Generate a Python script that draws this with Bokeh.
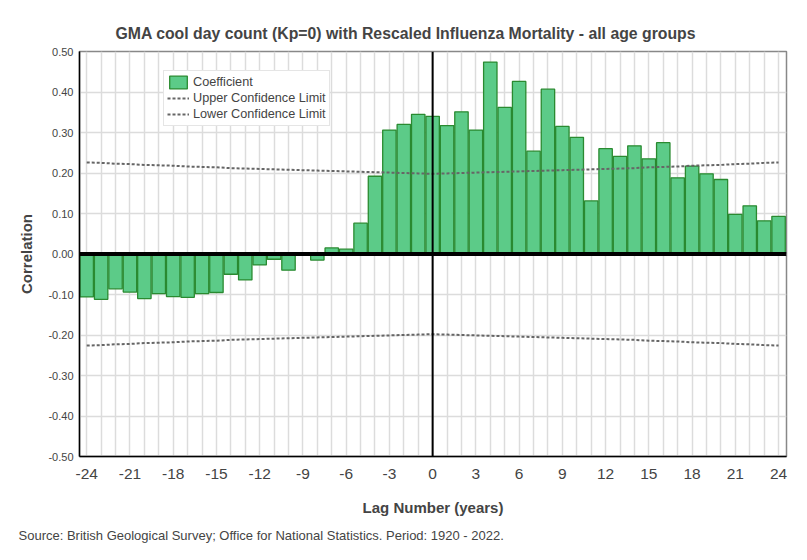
from bokeh.plotting import figure
from bokeh.models import (ColumnDataSource, FixedTicker, Span, Legend, LegendItem,
                          Title, Range1d)
from bokeh.embed import file_html
from bokeh.resources import INLINE

lags = list(range(-24, 25))
coefficient = [-0.106, -0.112, -0.086, -0.094, -0.110, -0.098, -0.105, -0.107, -0.098, -0.095,
               -0.050, -0.064, -0.027, -0.013, -0.040, 0.0, -0.015, 0.015, 0.012, 0.076,
               0.192, 0.306, 0.320, 0.345, 0.340,
               0.317, 0.351, 0.306, 0.474, 0.362, 0.426, 0.254, 0.407, 0.315, 0.288,
               0.131, 0.260, 0.241, 0.267, 0.235, 0.275, 0.188, 0.217, 0.198, 0.184,
               0.098, 0.119, 0.082, 0.093]
upper_limit = [0.226, 0.225, 0.223, 0.222, 0.220, 0.219, 0.218, 0.216, 0.215, 0.214,
               0.212, 0.211, 0.210, 0.209, 0.208, 0.207, 0.206, 0.205, 0.204, 0.203,
               0.202, 0.201, 0.200, 0.199, 0.198,
               0.199, 0.200, 0.201, 0.202, 0.203, 0.204, 0.205, 0.206, 0.207, 0.208,
               0.209, 0.210, 0.211, 0.212, 0.214, 0.215, 0.216, 0.218, 0.219, 0.220,
               0.222, 0.223, 0.225, 0.226]
lower_limit = [-0.226, -0.225, -0.223, -0.222, -0.220, -0.219, -0.218, -0.216, -0.215, -0.214,
               -0.212, -0.211, -0.210, -0.209, -0.208, -0.207, -0.206, -0.205, -0.204, -0.203,
               -0.202, -0.201, -0.200, -0.199, -0.198,
               -0.199, -0.200, -0.201, -0.202, -0.203, -0.204, -0.205, -0.206, -0.207, -0.208,
               -0.209, -0.210, -0.211, -0.212, -0.214, -0.215, -0.216, -0.218, -0.219, -0.220,
               -0.222, -0.223, -0.225, -0.226]
x_ticks = [-24, -21, -18, -15, -12, -9, -6, -3, 0, 3, 6, 9, 12, 15, 18, 21, 24]
x_tick_labels = ["-24", "-21", "-18", "-15", "-12", "-9", "-6", "-3", "0",
                 "3", "6", "9", "12", "15", "18", "21", "24"]
y_ticks = [-0.5, -0.4, -0.3, -0.2, -0.1, 0.0, 0.1, 0.2, 0.3, 0.4, 0.5]
y_tick_labels = ["-0.50", "-0.40", "-0.30", "-0.20", "-0.10", "0.00",
                 "0.10", "0.20", "0.30", "0.40", "0.50"]

title_text = "GMA cool day count (Kp=0) with Rescaled Influenza Mortality - all age groups"
source_text = "Source: British Geological Survey; Office for National Statistics. Period: 1920 - 2022."

FONT = "Liberation Sans"

src = ColumnDataSource(dict(lag=lags, coef=coefficient, up=upper_limit, lo=lower_limit))

p = figure(width=798, height=552, output_backend="svg", toolbar_location=None,
           x_range=Range1d(-24.5, 24.55), y_range=Range1d(-0.5, 0.5),
           min_border_left=79, min_border_right=12, min_border_top=51, min_border_bottom=96)

p.title.text = title_text
p.title.text_font = FONT
p.title.text_font_size = "15.8px"
p.title.text_font_style = "bold"
p.title.align = "left"
p.title.offset = 36
p.title.standoff = 20

p.outline_line_color = "#888888"
p.outline_line_width = 1.5

p.xgrid.ticker = FixedTicker(ticks=lags)
p.ygrid.ticker = FixedTicker(ticks=y_ticks)
p.xgrid.grid_line_color = "#dcdcdc"
p.ygrid.grid_line_color = "#dcdcdc"
p.xgrid.grid_line_width = 1.5
p.ygrid.grid_line_width = 1.5

bars = p.vbar(x="lag", top="coef", bottom=0, width=0.93, source=src,
              fill_color="#5ccb88", line_color="#2a8a30", line_width=1.3)
upl = p.line("lag", "up", source=src, line_color="#666666", line_width=2, line_dash="3 2")
lol = p.line("lag", "lo", source=src, line_color="#666666", line_width=2, line_dash="3 2")

p.add_layout(Span(location=0, dimension="width", line_color="black", line_width=4))
p.add_layout(Span(location=0, dimension="height", line_color="black", line_width=2))

xa = p.xaxis[0]
xa.ticker = FixedTicker(ticks=x_ticks)
xa.major_label_overrides = dict(zip(x_ticks, x_tick_labels))
xa.axis_label = "Lag Number (years)"
xa.axis_label_text_font = FONT
xa.axis_label_text_font_size = "15px"
xa.axis_label_text_font_style = "bold"
xa.axis_label_standoff = 17
xa.major_label_text_font = FONT
xa.major_label_text_font_size = "15.5px"
xa.major_label_standoff = 6
xa.major_tick_line_color = None
xa.minor_tick_line_color = None
xa.axis_line_color = "black"
xa.axis_line_width = 1.5

ya = p.yaxis[0]
ya.ticker = FixedTicker(ticks=y_ticks)
ya.major_label_overrides = dict(zip(y_ticks, y_tick_labels))
ya.axis_label = "Correlation"
ya.axis_label_text_font = FONT
ya.axis_label_text_font_size = "15px"
ya.axis_label_text_font_style = "bold"
ya.axis_label_standoff = 10
ya.major_label_text_font = FONT
ya.major_label_text_font_size = "11px"
ya.major_label_standoff = 0
ya.major_tick_line_color = None
ya.minor_tick_line_color = None
ya.axis_line_color = "black"
ya.axis_line_width = 1.5

legend = Legend(items=[LegendItem(label="Coefficient", renderers=[bars]),
                       LegendItem(label="Upper Confidence Limit", renderers=[upl]),
                       LegendItem(label="Lower Confidence Limit", renderers=[lol])],
                location=(84, 330))
legend.label_text_font = FONT
legend.label_text_font_size = "12.7px"
legend.border_line_color = "#cccccc"
legend.border_line_width = 1
legend.background_fill_alpha = 1.0
legend.margin = 0
legend.padding = 3
legend.spacing = 0
legend.glyph_width = 22
legend.glyph_height = 16
legend.label_height = 16
legend.label_standoff = 4
p.add_layout(legend)

src_title = Title(text=source_text, align="left", text_font=FONT, text_font_size="13px",
                  text_font_style="normal", offset=-61, standoff=14)
p.add_layout(src_title, "below")

open("out.html", "w").write(file_html(p, INLINE))
